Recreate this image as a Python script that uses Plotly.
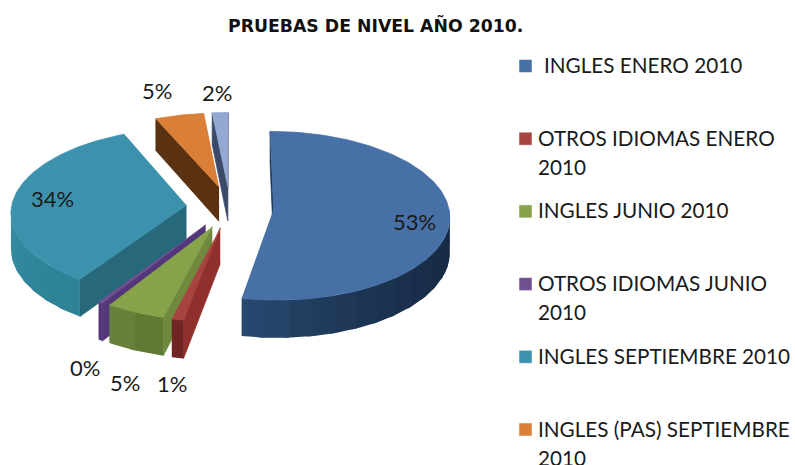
import math
import plotly.graph_objects as go

TITLE = "PRUEBAS DE NIVEL AÑO 2010."
categories = ["INGLES ENERO 2010", "OTROS IDIOMAS ENERO 2010", "INGLES JUNIO 2010",
              "OTROS IDIOMAS JUNIO 2010", "INGLES SEPTIEMBRE 2010",
              "INGLES (PAS) SEPTIEMBRE 2010", "OTROS IDIOMAS SEPTIEMBRE 2010"]
shares = [53, 1, 5, 0.4, 34, 5, 1.6]

legend_lines = [[" INGLES ENERO 2010"], ["OTROS IDIOMAS ENERO", "2010"], ["INGLES JUNIO 2010"],
                ["OTROS IDIOMAS JUNIO", "2010"], ["INGLES SEPTIEMBRE 2010"],
                ["INGLES (PAS) SEPTIEMBRE", "2010"]]

# styling
top_col = ["#4670a6", "#a84440", "#86a34a", "#6f5090", "#3c92ac", "#d97f38", "#93a9d2"]
side_col = ["#1c3553", "#8f302e", "#6f8a3e", "#54377a", "#27697b", "#5a3212", "#3a4a68"]
arc_from = ["#172a44", "#6e2524", "#5e7a32", "#54377a", "#2f8397", "#5a3212", "#3a4a68"]
arc_to = ["#27486e", "#7a2a28", "#66823a", "#5a3c80", "#3a8ea5", "#5a3212", "#3a4a68"]
label_xy = [(414, 221), (172, 383), (125, 382), (85, 367), (52, 198), (157, 90), (217, 92)]
FONT = "Lato"
CX, CY, RX, RY = 230, 207, 175, 84
PULL, PERSP, DEPTH = 0.25, 0.08, 35
STEP = 72.7


def project(u, v):
    s = 1 + PERSP * v
    return CX + RX * u * s, CY + RY * v * s, DEPTH * s


def mix(a, b, t):
    ca = [int(a[i:i + 2], 16) for i in (1, 3, 5)]
    cb = [int(b[i:i + 2], 16) for i in (1, 3, 5)]
    return "rgb(%d,%d,%d)" % tuple(round(p + (q - p) * t) for p, q in zip(ca, cb))


fig = go.Figure()


def poly(xs, ys, color, name, hover=None, width=0.8):
    fig.add_trace(go.Scatter(x=xs, y=ys, mode="lines", fill="toself", fillcolor=color,
                             line=dict(color=color, width=width), name=name, showlegend=False,
                             hoverinfo="text" if hover else "skip", text=hover, hoveron="fills"))


total = sum(shares)
spans = []
acc = 0.0
for value in shares:
    spans.append((acc / total * 2 * math.pi, (acc + value) / total * 2 * math.pi))
    acc += value


# angle 0 points to the back of the pie; angles run clockwise seen from above
def point(i, theta, r):
    a, b = spans[i]
    mid = (a + b) / 2
    u = PULL * math.sin(mid) + r * math.sin(theta)
    v = -(PULL * math.cos(mid) + r * math.cos(theta))
    return project(u, v)


# back slices first so that the nearer ones overlap them
order = sorted(range(len(shares)), key=lambda k: -math.cos(sum(spans[k]) / 2))
for i in order:
    a, b = spans[i]
    name = categories[i]
    # flat radial walls, drawn only where they face the viewer
    for edge in (a, b):
        ax, ay, ad = point(i, a, 0)
        ox, oy, od = point(i, edge, 1)
        dx, dy = ox - ax, oy - ay
        nx, ny = -dy, dx
        mx, my, _ = point(i, (a + b) / 2, 0.5)
        if nx * (mx - ax) + ny * (my - ay) > 0:
            nx, ny = -nx, -ny
        if ny > 0:
            poly([ax, ox, ox, ax], [ay, oy, oy + od, ay + ad], side_col[i], name)
    # curved outer wall in overlapping bands, only the part facing the viewer
    lo, hi = max(a, math.pi / 2), min(b, 3 * math.pi / 2)
    if hi > lo:
        bands = max(1, int((hi - lo) / 0.12))
        for k in range(bands):
            t0 = lo + (hi - lo) * k / bands
            t1 = min(hi, lo + (hi - lo) * (k + 1) / bands + 0.03)
            steps = [t0 + (t1 - t0) * j / 4 for j in range(5)]
            pts = [point(i, t, 1) for t in steps]
            xs = [p[0] for p in pts] + [p[0] for p in reversed(pts)]
            ys = [p[1] for p in pts] + [p[1] + p[2] for p in reversed(pts)]
            poly(xs, ys, mix(arc_from[i], arc_to[i], (k / max(1, bands - 1)) ** 2), name, width=0)
    # top face
    n = max(3, int((b - a) / 0.02))
    pts = [point(i, a, 0)] + [point(i, a + (b - a) * j / n, 1) for j in range(n + 1)]
    poly([p[0] for p in pts], [p[1] for p in pts], top_col[i], name,
         f"{name}: {round(shares[i])}%")

annotations = [dict(x=375, y=25, text=f"<b>{TITLE}</b>", showarrow=False, xanchor="center",
                    yanchor="middle", font=dict(family="DejaVu Sans", size=17.3, color="#111"))]
for (x, y), value in zip(label_xy, shares):
    annotations.append(dict(x=x, y=y, text=f"{round(value)}%", showarrow=False, xanchor="center",
                            yanchor="middle", font=dict(family=FONT, size=22, color="#1a1a1a")))

shapes = []
for i, lines in enumerate(legend_lines):
    y0 = 66 + i * STEP
    shapes.append(dict(type="rect", x0=519, x1=532, y0=y0 - 6.5, y1=y0 + 6.5, layer="above",
                       fillcolor=top_col[i], line=dict(color="#ffffff", width=0.5)))
    for j, line in enumerate(lines):
        x = 542 if line.startswith(" ") else 536
        annotations.append(dict(x=x, y=y0 - 1 + j * 29, text=line.strip(), showarrow=False,
                                xanchor="left", yanchor="middle",
                                font=dict(family=FONT, size=20.7, color="#1a1a1a")))

fig.update_layout(width=795, height=465, margin=dict(l=0, r=0, t=0, b=0), showlegend=False,
                  paper_bgcolor="white", plot_bgcolor="white", annotations=annotations, shapes=shapes,
                  xaxis=dict(range=[0, 795], visible=False, fixedrange=True),
                  yaxis=dict(range=[465, 0], visible=False, fixedrange=True))
fig.write_html("out.html", config=dict(displayModeBar=False),
               post_script="document.body.style.margin='0';document.body.style.overflow='hidden';")
